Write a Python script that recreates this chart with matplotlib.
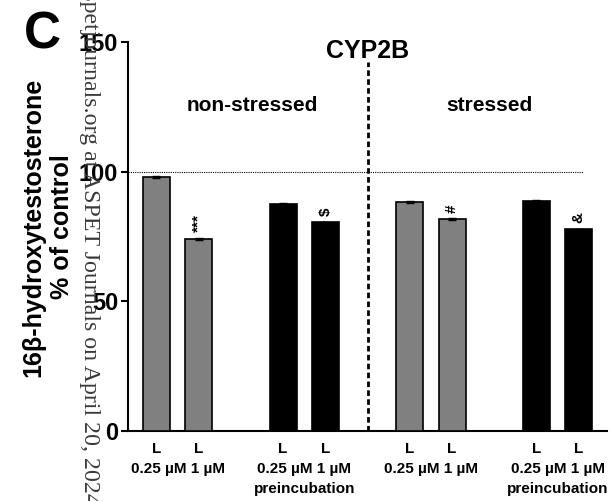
import matplotlib
matplotlib.use("Agg")
import matplotlib.pyplot as plt
from matplotlib.transforms import blended_transform_factory

plt.rcParams["font.family"] = ["Liberation Sans", "DejaVu Sans"]

# data
positions = [0, 1, 3, 4, 6, 7, 9, 10]
values = [98.0, 74.0, 87.5, 80.4, 88.3, 81.7, 88.7, 77.7]
errors = [0.3, 0.3, 0.3, 0.3, 0.3, 0.3, 0.3, 0.3]
bar_colors = ["#808080", "#808080", "black", "black", "#808080", "#808080", "black", "black"]
marks = ["", "***", "", "$", "", "#", "", "&"]
tick_labels = ["L"] * 8
pair_labels = ["0.25 \u00b5M 1 \u00b5M"] * 4
pair_sub = ["", "preincubation", "", "preincubation"]
yticks = [0, 50, 100, 150]

fig = plt.figure(figsize=(6.15, 5.01), dpi=100)
ax = fig.add_axes([0.208, 0.1407, 0.779, 0.775])

ax.bar(positions, values, width=0.64, color=bar_colors, edgecolor="black", linewidth=1.2,
       yerr=errors, capsize=3, error_kw={"elinewidth": 1, "capthick": 1}, zorder=3)

for x, v, m in zip(positions, values, marks):
    if m:
        ax.text(x, v + 2.5, m, rotation=90, ha="center", va="bottom", fontsize=11,
                fontweight="bold")

ax.axhline(100, xmin=0, xmax=(10.1 + 0.675) / (10.67 + 0.675), color="black",
           linestyle=(0, (1, 1)), linewidth=0.8, zorder=2)
ax.plot([5, 5], [0, 142.5], color="black", linestyle=(0, (2, 1.2)), linewidth=2, zorder=4)

ax.text(5, 146.5, "CYP2B", ha="center", va="center", fontsize=18, fontweight="bold")
ax.text(2.27, 125.5, "non-stressed", ha="center", va="center", fontsize=15, fontweight="bold")
ax.text(7.89, 125.5, "stressed", ha="center", va="center", fontsize=15, fontweight="bold")

ax.set_xlim(-0.675, 10.67)
ax.set_ylim(0, 150)
ax.set_yticks(yticks)
ax.set_yticklabels([str(t) for t in yticks], fontsize=17, fontweight="bold")
ax.set_xticks(positions)
ax.set_xticklabels(tick_labels, fontsize=11, fontweight="bold")
ax.tick_params(axis="x", length=0, pad=8)
ax.tick_params(axis="y", length=5, width=1.5, pad=2)

trans = blended_transform_factory(ax.transData, ax.transAxes)
for i, (lab, sub) in enumerate(zip(pair_labels, pair_sub)):
    mid = (positions[2 * i] + positions[2 * i + 1]) / 2
    ax.text(mid, -0.098, lab, transform=trans, ha="center", va="center", fontsize=11,
            fontweight="bold")
    if sub:
        ax.text(mid, -0.15, sub, transform=trans, ha="center", va="center", fontsize=11,
                fontweight="bold")

for s in ["top", "right"]:
    ax.spines[s].set_visible(False)
ax.spines["left"].set_linewidth(1.5)
ax.spines["bottom"].set_linewidth(1.5)

fig.text(0.077, 0.547, "16\u03b2-hydroxytestosterone\n% of control", rotation=90,
         ha="center", va="center", fontsize=18, fontweight="bold", multialignment="center",
         linespacing=1.25)
fig.text(0.069, 0.93, "C", fontsize=37, fontweight="bold", ha="center", va="center")

fig.text(0.146, -0.008, "jpet.aspetjournals.org at ASPET Journals on April 20, 2024",
         rotation=-90, ha="center", va="bottom", fontsize=17.2, color="#3a3a3a",
         family=["Liberation Serif", "DejaVu Serif"])

fig.savefig("out.png", dpi=100)
